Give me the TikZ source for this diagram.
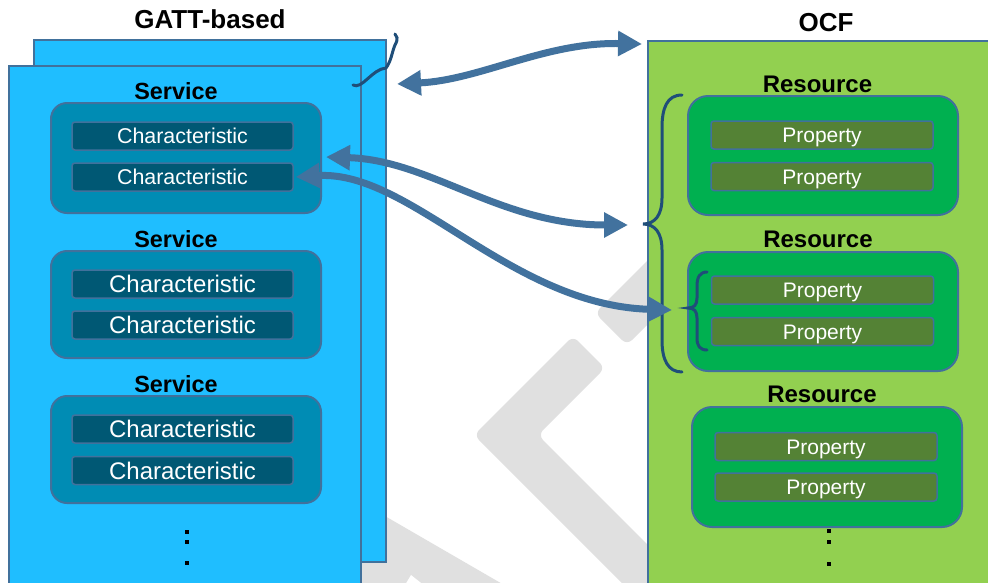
\documentclass[tikz,border=0pt]{standalone}
\usepackage{fontspec}
\setmainfont{Liberation Sans}
\usetikzlibrary{arrows.meta}
\definecolor{gattblue}{RGB}{31,190,255}
\definecolor{bordc}{RGB}{65,113,156}
\definecolor{svcfill}{RGB}{0,140,180}
\definecolor{charfill}{RGB}{0,88,116}
\definecolor{ocfgreen}{RGB}{146,208,80}
\definecolor{resfill}{RGB}{0,176,80}
\definecolor{propfill}{RGB}{84,130,53}
\definecolor{arrowc}{RGB}{66,114,158}
\definecolor{bracec}{RGB}{31,78,121}
\definecolor{wmgray}{RGB}{224,224,224}
\tikzset{
  bigrect/.style={draw=bordc, line width=2pt},
  svcbox/.style={fill=svcfill, draw=bordc, line width=2pt, rounded corners=16pt, minimum width=270pt, inner sep=0pt},
  resbox/.style={fill=resfill, draw=bordc, line width=2pt, rounded corners=20pt, minimum width=270pt, inner sep=0pt},
  charbox/.style={fill=charfill, draw=bordc, line width=1.5pt, rounded corners=3pt, text=white, inner sep=0pt, minimum width=221pt, minimum height=28pt, text depth=0pt},
  charsmall/.style={charbox, font=\fontsize{21.4}{24}\selectfont, text height=15.3pt},
  charbig/.style={charbox, font=\fontsize{24}{28}\selectfont, text height=17.2pt},
  propbox/.style={fill=propfill, draw=bordc, line width=1.5pt, rounded corners=3pt, text=white, inner sep=0pt, minimum width=222pt, minimum height=28pt, text depth=0pt, font=\fontsize{21}{24}\selectfont, text height=15pt},
  header/.style={font=\fontsize{26}{30}\selectfont\bfseries, anchor=base, inner sep=0pt},
  svclabel/.style={font=\fontsize{23.4}{28}\selectfont\bfseries, anchor=base, inner sep=0pt},
  reslabel/.style={font=\fontsize{24}{28}\selectfont\bfseries, anchor=base, inner sep=0pt},
  dotmark/.style={fill=black, inner sep=0pt, minimum width=4.5pt, minimum height=4pt},
  conn/.style={draw=arrowc, line width=7pt},
  bothtips/.style={{Triangle[length=24pt,width=24pt]}-{Triangle[length=24pt,width=24pt]}},
  bracepath/.style={draw=bracec, line width=3pt, line cap=round},
  wm/.style={fill=wmgray, rounded corners=7pt}
}
\begin{document}
\begin{tikzpicture}[x=1pt,y=-1pt]
\useasboundingbox (0,0) rectangle (988,582);
\clip (0,0) rectangle (988,582);
\fill[white] (0,0) rectangle (988,582);

% watermark
\fill[wm] (573,336) -- (474,435) -- (664,625) -- (696,593) -- (538,435) -- (605,368) -- cycle;
\fill[wm] (595,313) -- (627,345) -- (716,256) -- (684,224) -- cycle;
\fill[wmgray] (340,490) -- (530,600) -- (340,600) -- cycle;
\fill[white] (402,590) -- (411,575) -- (430,590) -- cycle;

% GATT side
\path[bigrect, fill=gattblue] (34,40) rectangle (386,562);
\path[bigrect, fill=gattblue] (9,66) rectangle (361,620);
\node[header] (gatt) at (210,28) {GATT-based};

\node[svclabel] (sl1) at (176,99) {Service};
\node[svcbox, minimum height=110pt] (s1) at (186,158) {};
\node[charsmall] (c11) at (182.5,136) {Characteristic};
\node[charsmall] (c12) at (182.5,177) {Characteristic};

\node[svclabel] (sl2) at (176,247) {Service};
\node[svcbox, minimum height=107pt] (s2) at (186,304.5) {};
\node[charbig] (c21) at (182.5,284) {Characteristic};
\node[charbig] (c22) at (182.5,325) {Characteristic};

\node[svclabel] (sl3) at (176,392) {Service};
\node[svcbox, minimum height=107pt] (s3) at (186,449.5) {};
\node[charbig] (c31) at (182.5,429) {Characteristic};
\node[charbig] (c32) at (182.5,470.5) {Characteristic};

\node[dotmark] (ld1) at (187,532) {};
\node[dotmark] (ld2) at (187,542) {};
\node[dotmark] (ld3) at (187,563) {};

% OCF side
\path[bigrect, fill=ocfgreen] (648,41) rectangle (1010,620);
\node[header] (ocf) at (826,31) {OCF};

\node[reslabel] (rl1) at (817.5,92) {Resource};
\node[resbox, minimum height=119pt] (r1) at (823,155.5) {};
\node[propbox] (p11) at (822,135) {Property};
\node[propbox] (p12) at (822,176.5) {Property};

\node[reslabel] (rl2) at (818,247) {Resource};
\node[resbox, minimum height=119pt] (r2) at (823,311.5) {};
\node[propbox] (p21) at (822.5,290) {Property};
\node[propbox] (p22) at (822.5,331.5) {Property};

\node[reslabel] (rl3) at (822,402) {Resource};
\node[resbox, minimum height=120pt] (r3) at (827,467) {};
\node[propbox] (p31) at (826,446.5) {Property};
\node[propbox] (p32) at (826,487) {Property};

\node[dotmark] (rd1) at (829,531) {};
\node[dotmark] (rd2) at (829,542) {};
\node[dotmark] (rd3) at (829,564) {};

% braces
\draw[bracepath] (353,85) .. controls (362,90) and (372,69) .. (386,68)
  .. controls (392,60) and (392,50) .. (396,43) .. controls (398,39) and (397,36) .. (395,34);
\draw[bracepath] (682,95) .. controls (667,95) and (662,108) .. (662,128) -- (662,198)
  .. controls (662,215) and (655,224) .. (643,224)
  .. controls (655,224) and (662,233) .. (662,250) -- (662,340)
  .. controls (662,360) and (668,372) .. (682,372);
\draw[bracepath] (707,272) .. controls (700,272) and (697,277) .. (697,286) -- (697,298)
  .. controls (697,305) and (694,308) .. (688,308)
  .. controls (694,308) and (697,311) .. (697,318) -- (697,338)
  .. controls (697,346) and (700,350) .. (707,350);

% connectors
\coordinate (a1l) at (397,84);
\coordinate (a1r) at (642,44);
\coordinate (a2r) at (628,225);
\coordinate (a3r) at (672,310);
\draw[conn, bothtips] (a1l) .. controls (480,80) and (545,42) .. (a1r);
\draw[conn, bothtips] ([xshift=4pt]s1.east |- 0,157) .. controls (430,160) and (500,225) .. (a2r);
\draw[conn, bothtips] ([xshift=2pt]c12.east) .. controls (410,170) and (510,305) .. (a3r);
\end{tikzpicture}
\end{document}
